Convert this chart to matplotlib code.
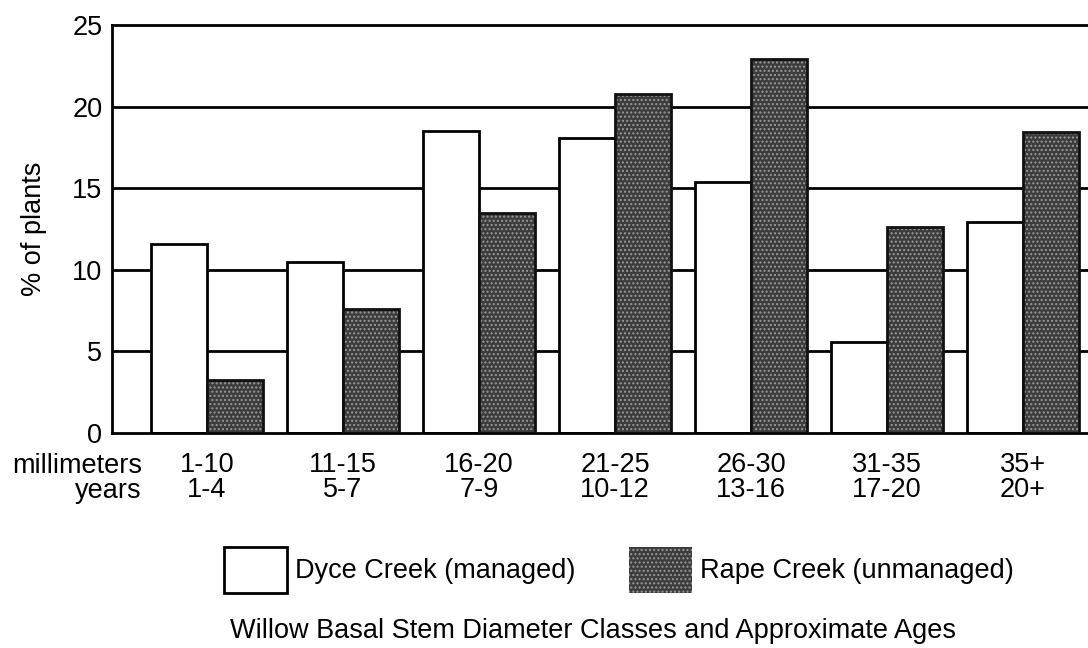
import numpy as np
import matplotlib.pyplot as plt
import matplotlib.patches as mpatches

# diameter classes (mm) and approximate ages (years)
mm_classes = ["1-10", "11-15", "16-20", "21-25", "26-30", "31-35", "35+"]
age_classes = ["1-4", "5-7", "7-9", "10-12", "13-16", "17-20", "20+"]
dyce = [11.6, 10.5, 18.5, 18.1, 15.4, 5.6, 12.9]   # Dyce Creek (managed)
rape = [3.25, 7.6, 13.5, 20.8, 22.9, 12.6, 18.45]  # Rape Creek (unmanaged)

plt.rcParams['font.family'] = ['Liberation Sans', 'DejaVu Sans']
plt.rcParams['hatch.linewidth'] = 1.0
fs = 19.5
lw = 2.0

fig = plt.figure(figsize=(10.88, 6.48), dpi=100)
ax = fig.add_axes([112/1088, 1-433/648, 1-112/1088, 408/648])

x = np.arange(len(mm_classes))
w = 0.41
dark = '#3c3c3c'

# grid lines behind bars
for yv in [5, 10, 15, 20]:
    ax.axhline(yv, color='black', lw=lw, zorder=0)

ax.bar(x - w/2, dyce, w, color='white', edgecolor='black', lw=lw, zorder=2)
ax.bar(x + w/2, rape, w, color=dark, edgecolor='#999999', lw=0, hatch='....', zorder=2)
ax.bar(x + w/2, rape, w, color='none', edgecolor='#111111', lw=lw, zorder=3)

ax.set_xlim(-0.699, 6.478)
ax.set_ylim(0, 25)
ax.set_yticks([0, 5, 10, 15, 20, 25])
ax.tick_params(axis='y', length=0, pad=7, labelsize=fs)
ax.set_xticks(x)
ax.set_xticklabels([m + "\n" + a for m, a in zip(mm_classes, age_classes)], fontsize=fs,
                   linespacing=0.95)
ax.tick_params(axis='x', length=0, pad=14)
for s in ['left', 'bottom', 'top']:
    ax.spines[s].set_linewidth(lw)
ax.spines['right'].set_visible(False)

fig.text(142/1088, 1-453/648, "millimeters\nyears", ha='right', va='top', fontsize=fs,
         multialignment='right', linespacing=0.95)
fig.text(34/1088, 1-229/648, "% of plants", rotation=90, ha='center', va='center', fontsize=fs)

h1 = mpatches.Patch(facecolor='white', edgecolor='black', lw=lw)
h2 = mpatches.Patch(facecolor=dark, edgecolor='#999999', hatch='....', lw=0)
fig.legend([h1, h2], ['Dyce Creek (managed)', 'Rape Creek (unmanaged)'], ncol=2,
           loc='center', bbox_to_anchor=(619/1088, 1-570/648), frameon=False,
           fontsize=fs, handlelength=2.3, handleheight=2.2, handletextpad=0.3,
           columnspacing=2.0)

fig.text(593/1088, 1-638/648, "Willow Basal Stem Diameter Classes and Approximate Ages",
         ha='center', va='baseline', fontsize=fs)

fig.savefig('out.png', dpi=100)
